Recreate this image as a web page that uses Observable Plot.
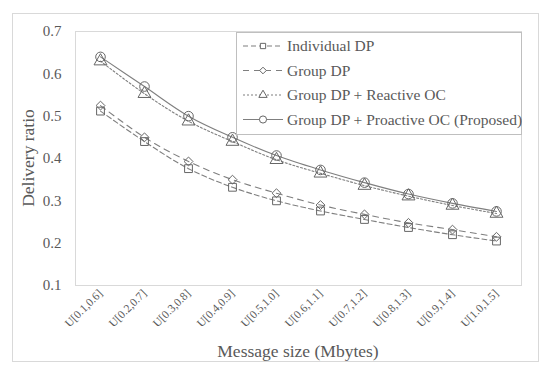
<!DOCTYPE html>
<html><head><meta charset="utf-8">
<script src="https://cdn.jsdelivr.net/npm/d3@7"></script>
<script src="https://cdn.jsdelivr.net/npm/@observablehq/plot@0.6"></script>
<style>
body{margin:0;background:#fff;font-family:'Liberation Serif',serif;}
#wrap{position:relative;width:550px;height:379px;}
#outer{position:absolute;left:12px;top:13px;width:527px;height:349px;border:1px solid #d9d9d9;box-sizing:border-box;}
#legend{position:absolute;left:236px;top:32px;}
#xtitle{position:absolute;left:75px;width:446px;top:341px;text-align:center;font-size:17.5px;color:#595959;line-height:20px;}
#ytitle{position:absolute;left:28px;top:158px;transform:translate(-50%,-50%) rotate(-90deg);font-size:17.5px;color:#595959;white-space:nowrap;line-height:20px;}
</style></head>
<body><div id="wrap"><div id="outer"></div><div id="chart"></div><div id="legend"></div>
<div id="xtitle">Message size (Mbytes)</div><div id="ytitle">Delivery ratio</div></div>
<script>
const categories = ["U[0.1,0.6]","U[0.2,0.7]","U[0.3,0.8]","U[0.4,0.9]","U[0.5,1.0]","U[0.6,1.1]","U[0.7,1.2]","U[0.8,1.3]","U[0.9,1.4]","U[1.0,1.5]"];
const seriesNames = ["Individual DP","Group DP","Group DP + Reactive OC","Group DP + Proactive OC (Proposed)"];
const individualDP = [0.512,0.440,0.376,0.332,0.300,0.276,0.256,0.237,0.220,0.205];
const groupDP      = [0.525,0.450,0.393,0.350,0.318,0.290,0.268,0.248,0.232,0.215];
const reactiveOC   = [0.630,0.553,0.488,0.440,0.397,0.365,0.336,0.311,0.289,0.270];
const proactiveOC  = [0.640,0.570,0.500,0.450,0.407,0.373,0.343,0.316,0.294,0.275];
const yTicks = [0.1,0.2,0.3,0.4,0.5,0.6,0.7];

const allSeries = [individualDP, groupDP, reactiveOC, proactiveOC];
const styles = [
  {dash:"5,3", symbol:"square", r:4.4},
  {dash:"6,5", symbol:"diamond2", r:4},
  {dash:"2,2", symbol:"triangle", r:4.8},
  {dash:null, symbol:"circle", r:4.8}
];
const data = [];
allSeries.forEach((vals, si) => vals.forEach((v, i) => data.push({series: seriesNames[si], si, cat: categories[i], v})));

const font = "Liberation Serif";
const lineColor = "#7f7f7f";
const marks = [Plot.frame({stroke:"#d9d9d9"})];
styles.forEach((s, si) => {
  const d = data.filter(e => e.si === si);
  marks.push(Plot.line(d, {x:"cat", y:"v", stroke:lineColor, strokeWidth:1.1, strokeDasharray:s.dash || undefined, curve:"catmull-rom"}));
});
styles.forEach((s, si) => {
  const d = data.filter(e => e.si === si);
  marks.push(Plot.dot(d, {x:"cat", y:"v", symbol:()=>s.symbol, r:s.r, stroke:"#666", fill:"none", strokeWidth:1}));
});

const chart = Plot.plot({
  width:550, height:379,
  marginLeft:75, marginRight:29, marginTop:31, marginBottom:94,
  style:{fontFamily:font, fontSize:"14px", color:"#595959", background:"transparent"},
  x:{type:"point", domain:categories, padding:0.5, label:null, tickSize:0, tickRotate:-45, tickPadding:6},
  y:{domain:[0.1,0.7], ticks:yTicks, tickFormat:d3.format(".1f"), tickSize:0, tickPadding:14, label:null},
  symbol:{type:"identity"},
  marks: marks.concat([
    Plot.axisX({tickSize:0, tickRotate:-45, tickPadding:6, fontSize:11.5, label:null, fontFamily:font}),
    Plot.axisY({ticks:yTicks, tickFormat:d3.format(".1f"), tickSize:0, tickPadding:14, fontSize:15, label:null, fontFamily:font})
  ])
});
chart.setAttribute("font-family", font);
chart.querySelectorAll("text").forEach(t => t.setAttribute("font-family", font));
document.getElementById("chart").appendChild(chart);

// legend
const lw = 286, lh = 103;
const lg = d3.select("#legend").append("svg").attr("width", lw).attr("height", lh).attr("font-family", font);
lg.append("rect").attr("x",0.5).attr("y",0.5).attr("width",lw-1).attr("height",lh-1).attr("fill","#fff").attr("stroke","#bfbfbf");
seriesNames.forEach((name, i) => {
  const y = 14 + i*24.5;
  const s = styles[i];
  lg.append("line").attr("x1",7).attr("x2",47).attr("y1",y).attr("y2",y).attr("stroke",lineColor).attr("stroke-width",1.1).attr("stroke-dasharray", s.dash);
  const sym = {square:d3.symbolSquare, diamond2:d3.symbolDiamond2, triangle:d3.symbolTriangle, circle:d3.symbolCircle}[s.symbol];
  lg.append("path").attr("d", d3.symbol(sym, s.symbol==="circle"?40:s.symbol==="triangle"?30:28)()).attr("transform",`translate(27,${y})`).attr("fill","#fff").attr("stroke","#666");
  lg.append("text").attr("x",51).attr("y",y).attr("dy","0.35em").attr("font-size","15.5px").attr("font-family",font).attr("fill","#595959").text(name);
});
</script></body></html>
